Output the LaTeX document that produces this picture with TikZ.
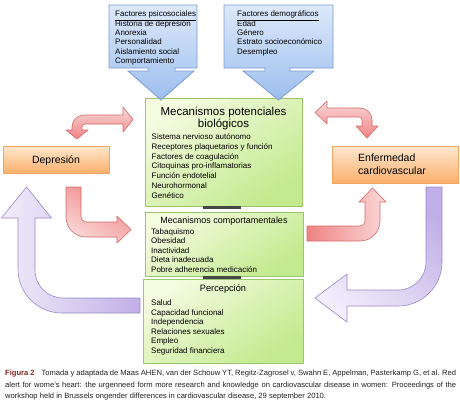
\documentclass[tikz,border=0pt]{standalone}
\usepackage{fontspec}
\setmainfont{Liberation Sans}
\definecolor{blueT}{HTML}{DDE9FA}
\definecolor{blueD}{HTML}{9CBEEE}
\definecolor{blueB}{HTML}{7C9CD0}
\definecolor{greenT}{HTML}{F4FBDF}
\definecolor{greenD}{HTML}{C3EA8E}
\definecolor{greenB}{HTML}{9CC46C}
\definecolor{orangeT}{HTML}{FEE7CE}
\definecolor{orangeD}{HTML}{F9B06C}
\definecolor{orangeB}{HTML}{F2A55E}
\definecolor{redD}{HTML}{EF8383}
\definecolor{redL}{HTML}{FBD8D8}
\definecolor{redB}{HTML}{D46A6A}
\definecolor{purD}{HTML}{C0AFE6}
\definecolor{purL}{HTML}{F1EDFB}
\definecolor{purB}{HTML}{9A88C8}
\definecolor{capred}{HTML}{8B2323}
\definecolor{captext}{HTML}{222222}
\tikzset{
  greenbox/.style={draw=greenB, line width=0.8pt, top color=greenT, bottom color=greenD, shading angle=35},
  bluebox/.style={draw=blueB, line width=0.8pt, top color=blueT, bottom color=blueD},
  orangebox/.style={draw=orangeB, line width=0.8pt, top color=orangeT, bottom color=orangeD},
  redarrow/.style={draw=redB, line width=0.6pt, line join=round},
  purarrow/.style={draw=purB, line width=0.6pt, line join=round},
  itm/.style={anchor=base west, inner sep=0pt, font=\fontsize{8}{9}\selectfont},
  ttl/.style={anchor=base, inner sep=0pt},
  capline/.style={anchor=base west, inner sep=0pt, text=captext, font=\fontsize{7.6}{9}\selectfont},
  strip/.style={fill=black!72, draw=none}
}
\begin{document}
\begin{tikzpicture}[x=1pt,y=-1pt]
\useasboundingbox (0,0) rectangle (460,413);
\fill[white] (0,0) rectangle (460,413);

% ---------- green boxes ----------
\path[greenbox] (145,98) rectangle (302,206);
\path[greenbox] (145,212) rectangle (303,276);
\path[greenbox] (143,279) rectangle (303,363);
\path[strip] (203,206.4) rectangle (241,209);
\path[strip] (203,276.4) rectangle (241,279);

% ---------- blue callouts ----------
\path[bluebox] (109,5) -- (197,5) -- (197,68) -- (175,68) -- (175,71) -- (194,71)
  -- (161,100) -- (128,71) -- (148,71) -- (148,68) -- (109,68) -- cycle;
\path[bluebox] (224,5) -- (333,5) -- (333,68) -- (290,68) -- (290,71) -- (314,71)
  -- (278.5,100) -- (243,71) -- (265,71) -- (265,68) -- (224,68) -- cycle;

% ---------- orange boxes ----------
\path[orangebox] (3,146) rectangle (109,173);
\path[orangebox] (332,146) rectangle (458,183);

% ---------- red arrows ----------
% Depresion <-> biologicos
\path[redarrow, top color=redL, bottom color=redD]
  (123,115) -- (84,115) .. controls (77.38,115) and (72,120.38) .. (72,127)
  -- (72,130) -- (66,130) -- (77,139) -- (88,130) -- (82,130) -- (82,127)
  .. controls (82,125.34) and (83.34,124) .. (85,124) -- (123,124) -- (123,132)
  -- (133,119.5) -- (123,107) -- cycle;
% biologicos <-> Enfermedad
\path[redarrow, top color=redL, bottom color=redD]
  (327,108) -- (360,108) .. controls (366.62,108) and (372,113.38) .. (372,120)
  -- (372,126) -- (378,126) -- (367,138) -- (356,126) -- (362,126) -- (362,120)
  .. controls (362,118.34) and (360.66,117) .. (359,117) -- (327,117) -- (327,124)
  -- (315,112.5) -- (327,101) -- cycle;
% Depresion -> comportamentales
\path[redarrow, top color=redD, bottom color=redL, shading angle=-30]
  (66,187) -- (66,217) .. controls (66,228.04) and (74.96,237) .. (86,237)
  -- (117,237) -- (117,243) -- (131,229.5) -- (117,216) -- (117,222) -- (86,222)
  .. controls (83.24,222) and (81,219.76) .. (81,217) -- (81,187) -- cycle;
% comportamentales -> Enfermedad
\path[redarrow, left color=redD, right color=redL]
  (307,226) -- (360,226) .. controls (362.76,226) and (365,223.76) .. (365,221)
  -- (365,202) -- (359,202) -- (372.5,188) -- (386,202) -- (380,202) -- (380,221)
  .. controls (380,232.04) and (371.04,241) .. (360,241) -- (307,241) -- cycle;

% ---------- purple arrows ----------
% Percepcion -> Depresion
\path[purarrow, left color=purL, right color=purD]
  (140,298) -- (63,298) .. controls (47.54,298) and (35,285.46) .. (35,270)
  -- (35,218) -- (51.5,218) -- (26.5,187) -- (1.5,218) -- (18,218) -- (18,269)
  .. controls (18,293.29) and (37.71,313) .. (62,313) -- (140,313) -- cycle;
% Enfermedad -> Percepcion
\path[purarrow, top color=purD, bottom color=purL, shading angle=-40]
  (426,187) -- (426,262) .. controls (426,277.46) and (413.46,290) .. (398,290)
  -- (347,290) -- (347,274) -- (315,298) -- (347,322) -- (347,306) -- (398,306)
  .. controls (422.29,306) and (442,286.29) .. (442,262) -- (442,187) -- cycle;

% ---------- texts ----------
\foreach \t [count=\i] in {\underline{Factores psicosociales}, Historia de depresión, Anorexia, Personalidad, Aislamiento social, Comportamiento}
  \node[itm] (psi\i) at (115,{16.7+(\i-1)*9.4}) {\t};
\foreach \t [count=\i] in {\underline{Factores demográficos}, Edad, Género, Estrato socioeconómico, Desempleo}
  \node[itm] (dem\i) at (237,{16.7+(\i-1)*9.4}) {\t};

\node[ttl, font=\fontsize{11.5}{13}\selectfont] (biot1) at (223.5,115) {Mecanismos potenciales};
\node[ttl, font=\fontsize{11.5}{13}\selectfont] (biot2) at (223.5,127.5) {biológicos};
\foreach \t [count=\i] in {Sistema nervioso autónomo, Receptores plaquetarios y función, Factores de coagulación, Citoquinas pro-inflamatorias, Función endotelial, Neurohormonal, Genético}
  \node[itm] (bio\i) at (151.5,{139.5+(\i-1)*9.8}) {\t};

\node[ttl, font=\fontsize{9}{11}\selectfont] (compt) at (224,223.5) {Mecanismos comportamentales};
\foreach \t [count=\i] in {Tabaquismo, Obesidad, Inactividad, Dieta inadecuada, Pobre adherencia medicación}
  \node[itm] (comp\i) at (151,{234.3+(\i-1)*9.5}) {\t};

\node[ttl, font=\fontsize{9.2}{11}\selectfont] (perct) at (223,291.5) {Percepción};
\foreach \t [count=\i] in {Salud, Capacidad funcional, Independencia, Relaciones sexuales, Empleo, Seguridad financiera}
  \node[itm] (perc\i) at (151,{305.4+(\i-1)*9.6}) {\t};

\node[ttl, font=\fontsize{10.5}{12}\selectfont] (dep) at (56,163.2) {Depresión};
\node[anchor=base west, inner sep=0pt, font=\fontsize{10.5}{12}\selectfont] (enf1) at (358,161.5) {Enfermedad};
\node[anchor=base west, inner sep=0pt, font=\fontsize{10.5}{12}\selectfont] (enf2) at (358,174) {cardiovascular};

% ---------- caption ----------
\node[capline] (cap1) at (5,375.5) {\makebox[451pt][s]{\textcolor{capred}{\textbf{Figura 2}}\hspace{7pt}Tomada y adaptada de Maas AHEN, van der Schouw YT, Regitz-Zagrosel v, Swahn E, Appelman, Pasterkamp G, et al. Red}};
\node[capline] (cap2) at (5,387) {\makebox[451pt][s]{alert for wome's heart: the urgenneed form more research and knowledge on cardiovascular disease in women: Proceedings of the}};
\node[capline] (cap3) at (5,398.5) {workshop held in Brussels ongender differences in cardiovascular disease, 29 september 2010.};
\end{tikzpicture}
\end{document}
